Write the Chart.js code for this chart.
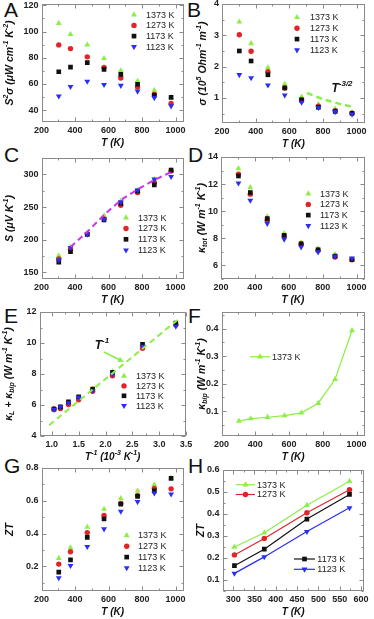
<!DOCTYPE html>
<html>
<head>
<meta charset="utf-8">
<script src="https://cdn.jsdelivr.net/npm/chart.js@4.4.1/dist/chart.umd.min.js"></script>
<style>
html, body { margin: 0; padding: 0; background: #fff; }
body { width: 374px; height: 619px; position: relative; overflow: hidden; }
canvas { position: absolute; }
.tag { position: absolute; font: 21px "Liberation Sans", Arial, sans-serif; line-height: 21px; color: #111; }
</style>
</head>
<body>
<div class="tag" style="left:4px;top:-1px">A</div>
<div class="tag" style="left:187px;top:-1px">B</div>
<div class="tag" style="left:4px;top:144px">C</div>
<div class="tag" style="left:188px;top:144px">D</div>
<div class="tag" style="left:4px;top:305px">E</div>
<div class="tag" style="left:188px;top:305px">F</div>
<div class="tag" style="left:4px;top:455px">G</div>
<div class="tag" style="left:188px;top:455px">H</div>

<script>
// temperatures (K) and inverse temperature (10^-3 K^-1)
const tempK = [303, 373, 473, 573, 673, 773, 873, 973];
const tempLow = [303, 373, 473, 573];
const invT = [1.04, 1.16, 1.31, 1.50, 1.76, 2.13, 2.69, 3.31];
const seriesNames = ["1373 K", "1273 K", "1173 K", "1123 K"];

// A: power factor S^2 sigma
const pf1373 = [106.3, 97.8, 89.8, 79.5, 70.2, 62.2, 55.1, 49.8];
const pf1273 = [89.8, 87.0, 80.7, 72.7, 64.6, 57.6, 52.0, 45.1];
const pf1173 = [69.3, 72.9, 76.3, 71.2, 67.3, 59.8, 51.5, 49.8];
const pf1123 = [50.7, 58.0, 62.0, 59.5, 58.8, 54.4, 49.5, 43.2];

// B: electrical conductivity
const sig1373 = [3.43, 2.74, 1.97, 1.44, 1.03, 0.79, 0.65, 0.54];
const sig1273 = [3.02, 2.49, 1.84, 1.32, 0.95, 0.74, 0.59, 0.51];
const sig1173 = [2.50, 2.18, 1.74, 1.32, 0.93, 0.70, 0.57, 0.51];
const sig1123 = [1.74, 1.64, 1.41, 1.09, 0.86, 0.69, 0.56, 0.48];
const sigFitT = [705, 800, 900, 990];
const sigFit = [1.16, 0.96, 0.81, 0.70];

// C: Seebeck coefficient
const seeb1373 = [175.7, 189.0, 211.0, 237.0, 259.0, 275.3, 292.5, 306.5];
const seeb1273 = [170.7, 185.3, 209.0, 232.0, 252.7, 272.3, 287.4, 305.0];
const seeb1173 = [165.6, 181.7, 208.0, 230.5, 255.7, 274.3, 283.9, 306.5];
const seeb1123 = [169.0, 187.8, 208.4, 231.0, 257.7, 275.8, 292.5, 296.5];
const seebFitT = [373, 473, 573, 673, 773, 873, 973];
const seebFit = [189.0, 212.0, 238.0, 260.7, 277.0, 291.4, 303.5];

// D: total thermal conductivity
const ktot1373 = [13.14, 11.75, 9.60, 8.37, 7.68, 7.23, 6.81, 6.47];
const ktot1273 = [12.74, 11.26, 9.33, 8.17, 7.56, 7.11, 6.62, 6.42];
const ktot1173 = [12.60, 11.38, 9.46, 8.22, 7.60, 7.16, 6.69, 6.44];
const ktot1123 = [12.07, 10.80, 9.09, 7.93, 7.36, 6.99, 6.67, 6.54];

// E: kappa_L + kappa_bip vs 1/T (ascending 1/T)
const klb1373 = [5.75, 5.85, 6.10, 6.45, 7.03, 8.15, 9.85, 11.22];
const klb1273 = [5.75, 5.77, 6.03, 6.34, 6.88, 7.89, 9.66, 11.18];
const klb1173 = [5.73, 5.88, 6.20, 6.53, 7.03, 8.10, 9.92, 11.29];
const klb1123 = [5.71, 5.88, 6.14, 6.49, 6.92, 7.98, 9.77, 11.07];
const klbFitX = [0.95, 3.40];
const klbFit = [4.70, 11.65];

// F: bipolar thermal conductivity
const kbip1373 = [0.064, 0.073, 0.078, 0.084, 0.094, 0.129, 0.216, 0.393];

// G, H: figure of merit
const zt1373 = [0.250, 0.315, 0.440, 0.549, 0.614, 0.661, 0.698, 0.739];
const zt1273 = [0.214, 0.289, 0.406, 0.510, 0.584, 0.633, 0.676, 0.673];
const zt1173 = [0.165, 0.240, 0.377, 0.489, 0.580, 0.627, 0.661, 0.737];
const zt1123 = [0.130, 0.205, 0.320, 0.428, 0.535, 0.594, 0.647, 0.641];

// tick values
const tTicks = [200, 400, 600, 800, 1000];
const tLowTicks = [300, 350, 400, 450, 500, 550, 600];
const invTicks = [1.0, 1.5, 2.0, 2.5, 3.0, 3.5];
const pfTicks = [40, 60, 80, 100, 120];
const sigTicks = [1, 2, 3, 4];
const seebTicks = [150, 200, 250, 300];
const ktotTicks = [6, 8, 10, 12, 14];
const klbTicks = [4, 6, 8, 10, 12];
const kbipTicks = [0.1, 0.2, 0.3, 0.4];
const ztTicks = [0.2, 0.4, 0.6, 0.8];
const ztLowTicks = [0.1, 0.2, 0.3, 0.4, 0.5, 0.6];

const FONT = '"Liberation Sans", Arial, sans-serif';
const green = "#8bef45", red = "#e02428", black = "#111111", blue = "#2a2ef5", magenta = "#cc33ee";
const looks = [
    { color: green, shape: "triangle", rot: 0, r: 3.4 },
    { color: red, shape: "circle", rot: 0, r: 2.7 },
    { color: black, shape: "rect", rot: 0, r: 3.3 },
    { color: blue, shape: "triangle", rot: 180, r: 3.4 }
];

const pts = (xs, ys) => ys.map((y, i) => ({ x: xs[i], y }));

function markerSets(xs, sets, withLine, only) {
    return sets.map((ys, k) => {
        const i = only !== undefined ? only : k;
        const lk = looks[i];
        return {
            label: seriesNames[i],
            data: pts(xs, ys),
            showLine: !!withLine,
            borderColor: lk.color,
            backgroundColor: lk.color,
            borderWidth: 1.2,
            pointStyle: lk.shape,
            pointRotation: lk.rot,
            pointRadius: lk.r,
            pointBorderWidth: 0
        };
    }).reverse();
}

function dashed(xs, ys, color, width) {
    return {
        data: pts(xs, ys), showLine: true, borderColor: color, backgroundColor: color,
        borderWidth: width, borderDash: [6, 4], pointRadius: 0
    };
}

function stackLegend(mx, tx, y0, dy) {
    return seriesNames.map((_, i) => ({ i, mx, tx, y: y0 + i * dy }));
}

function rich(ctx, parts, x, y, size, rotate) {
    const big = `italic bold ${size}px ${FONT}`;
    const small = `italic bold ${Math.round(size * 0.68)}px ${FONT}`;
    let w = 0;
    parts.forEach(([t, m]) => { ctx.font = m ? small : big; w += ctx.measureText(t).width; });
    ctx.save();
    ctx.translate(x, y);
    if (rotate) ctx.rotate(-Math.PI / 2);
    ctx.textBaseline = "middle";
    ctx.textAlign = "left";
    ctx.fillStyle = "#111";
    let cx = -w / 2;
    parts.forEach(([t, m]) => {
        ctx.font = m ? small : big;
        const dy = m === "^" ? -size * 0.4 : m === "_" ? size * 0.32 : 0;
        ctx.fillText(t, cx, dy);
        cx += ctx.measureText(t).width;
    });
    ctx.restore();
}

function tickList(vals, min, max) {
    const out = vals.filter(v => v >= min && v <= max).map(v => [v, true]);
    const step = vals[1] - vals[0];
    for (let v = vals[0] - step / 2; v <= max + 1e-9; v += step) {
        if (v >= min - 1e-9) out.push([v, false]);
    }
    return out;
}

function makeDeco(p) {
    return {
        id: "deco" + p.id,
        afterDatasetsDraw(chart) {
            const ctx = chart.ctx, a = chart.chartArea;
            const sx = chart.scales.x, sy = chart.scales.y;
            const ox = p.cv[0], oy = p.cv[1];
            ctx.save();
            const L = Math.round(a.left) + 0.5, T = Math.round(a.top) + 0.5;
            const R = Math.round(a.right) - 0.5, B = Math.round(a.bottom) - 0.5;
            ctx.strokeStyle = "#8a8a8a";
            ctx.lineWidth = 1;
            ctx.strokeRect(L, T, R - L, B - T);
            ctx.beginPath();
            tickList(p.x.ticks, sx.min, sx.max).forEach(([v, major]) => {
                const px = Math.round(sx.getPixelForValue(v)) + 0.5, len = major ? 4 : 2;
                ctx.moveTo(px, B); ctx.lineTo(px, B - len);
                ctx.moveTo(px, T); ctx.lineTo(px, T + len);
            });
            tickList(p.y.ticks, sy.min, sy.max).forEach(([v, major]) => {
                const py = Math.round(sy.getPixelForValue(v)) + 0.5, len = major ? 4 : 2;
                ctx.moveTo(L, py); ctx.lineTo(L + len, py);
                ctx.moveTo(R, py); ctx.lineTo(R - len, py);
            });
            ctx.stroke();

            // legend
            (p.legend || []).forEach(it => {
                const lk = looks[it.i], y = it.y - oy;
                if (it.l1) {
                    ctx.strokeStyle = lk.color;
                    ctx.lineWidth = 1.2;
                    ctx.beginPath();
                    ctx.moveTo(it.l1 - ox, y); ctx.lineTo(it.l2 - ox, y);
                    ctx.stroke();
                }
                ctx.fillStyle = lk.color;
                ctx.strokeStyle = lk.color;
                Chart.helpers.drawPoint(ctx, { pointStyle: lk.shape, rotation: lk.rot, radius: lk.r, borderWidth: 0 }, it.mx - ox, y);
                ctx.fillStyle = "#222";
                ctx.font = `9px ${FONT}`;
                ctx.textBaseline = "middle";
                ctx.textAlign = "left";
                ctx.fillText(seriesNames[it.i], it.tx - ox, y + 0.5);
            });

            // axis titles
            rich(ctx, p.yTitle.parts, p.yTitle.x - ox, (a.top + a.bottom) / 2, 10.5, true);
            rich(ctx, p.xTitle, (a.left + a.right) / 2, a.bottom + 21, 10, false);

            // annotations
            (p.notes || []).forEach(n => rich(ctx, n.parts, n.x - ox, n.y - oy, 12, false));
            if (p.arrow) {
                const [x1, y1, x2, y2] = p.arrow.map((v, k) => v - (k % 2 ? oy : ox));
                const ang = Math.atan2(y2 - y1, x2 - x1);
                ctx.strokeStyle = green; ctx.fillStyle = green; ctx.lineWidth = 1.5;
                ctx.beginPath(); ctx.moveTo(x1, y1); ctx.lineTo(x2 - 4 * Math.cos(ang), y2 - 4 * Math.sin(ang)); ctx.stroke();
                ctx.beginPath();
                ctx.moveTo(x2, y2);
                ctx.lineTo(x2 - 6 * Math.cos(ang) + 3 * Math.sin(ang), y2 - 6 * Math.sin(ang) - 3 * Math.cos(ang));
                ctx.lineTo(x2 - 6 * Math.cos(ang) - 3 * Math.sin(ang), y2 - 6 * Math.sin(ang) + 3 * Math.cos(ang));
                ctx.closePath(); ctx.fill();
            }
            ctx.restore();
        }
    };
}

const kUnit = [[" (W m", ""], ["-1", "^"], [" K", ""], ["-1", "^"], [")", ""]];
const tTitle = [["T (K)", ""]];

const panels = [
    {
        id: "A", cv: [0, 0, 192, 150], box: [41.5, 1, 184, 122],
        x: { min: 200, max: 1050, ticks: tTicks }, y: { min: 31, max: 121, ticks: pfTicks },
        yTitle: { x: 10, parts: [["S", ""], ["2", "^"], ["σ (μW cm", ""], ["-1", "^"], [" K", ""], ["-2", "^"], [")", ""]] },
        xTitle: tTitle,
        legend: stackLegend(134, 146, 14.7, 10.7),
        datasets: markerSets(tempK, [pf1373, pf1273, pf1173, pf1123])
    },
    {
        id: "B", cv: [187, 0, 187, 150], box: [222, 1, 365, 123],
        x: { min: 200, max: 1050, ticks: tTicks }, y: { min: 0.2, max: 4, ticks: sigTicks },
        yTitle: { x: 203, parts: [["σ (10", ""], ["5", "^"], [" Ohm", ""], ["-1", "^"], [" m", ""], ["-1", "^"], [")", ""]] },
        xTitle: tTitle,
        legend: stackLegend(297, 310, 17.3, 10.9),
        notes: [{ x: 342, y: 89, parts: [["T", ""], ["-3/2", "^"]] }],
        datasets: [dashed(sigFitT, sigFit, green, 2.5)].concat(markerSets(tempK, [sig1373, sig1273, sig1173, sig1123]))
    },
    {
        id: "C", cv: [0, 144, 192, 164], box: [41.5, 158, 184, 279],
        x: { min: 200, max: 1050, ticks: tTicks }, y: { min: 140, max: 325, ticks: seebTicks },
        yTitle: { x: 10, parts: [["S (μV K", ""], ["-1", "^"], [")", ""]] },
        xTitle: tTitle,
        legend: stackLegend(126, 138, 217.7, 10.8),
        datasets: [dashed(seebFitT, seebFit, magenta, 2)].concat(markerSets(tempK, [seeb1373, seeb1273, seeb1173, seeb1123]))
    },
    {
        id: "D", cv: [187, 144, 187, 164], box: [221, 157, 365, 279],
        x: { min: 200, max: 1050, ticks: tTicks }, y: { min: 5, max: 14, ticks: ktotTicks },
        yTitle: { x: 202, parts: [["κ", ""], ["tot", "_"]].concat(kUnit) },
        xTitle: tTitle,
        legend: stackLegend(308.3, 320, 193.7, 10.7),
        datasets: markerSets(tempK, [ktot1373, ktot1273, ktot1173, ktot1123])
    },
    {
        id: "E", cv: [0, 300, 192, 165], box: [39.5, 312, 186, 436],
        x: { min: 0.77, max: 3.5, ticks: invTicks, fmt: 1 }, y: { min: 4, max: 12, ticks: klbTicks },
        yTitle: { x: 9, parts: [["κ", ""], ["L", "_"], [" + κ", ""], ["bip", "_"]].concat(kUnit) },
        xTitle: [["T", ""], ["-1", "^"], [" (10", ""], ["-3", "^"], [" K", ""], ["-1", "^"], [")", ""]],
        legend: stackLegend(124, 136, 376, 9.9),
        notes: [{ x: 102, y: 346, parts: [["T", ""], ["-1", "^"]] }],
        arrow: [104, 352, 124, 362],
        datasets: [dashed(klbFitX, klbFit, green, 2)].concat(markerSets(invT, [klb1373, klb1273, klb1173, klb1123]))
    },
    {
        id: "F", cv: [187, 300, 187, 165], box: [221.5, 312, 365, 436],
        x: { min: 200, max: 1050, ticks: tTicks }, y: { min: 0.01, max: 0.46, ticks: kbipTicks, fmt: 1 },
        yTitle: { x: 202, parts: [["κ", ""], ["bip", "_"]].concat(kUnit) },
        xTitle: tTitle,
        legend: [{ i: 0, l1: 250, l2: 270, mx: 260, tx: 272, y: 356.7 }],
        datasets: markerSets(tempK, [kbip1373], true, 0)
    },
    {
        id: "G", cv: [0, 455, 192, 164], box: [41.5, 468, 184, 591],
        x: { min: 200, max: 1050, ticks: tTicks }, y: { min: 0.05, max: 0.8, ticks: ztTicks, fmt: 1 },
        yTitle: { x: 10, parts: [["ZT", ""]] },
        xTitle: tTitle,
        legend: stackLegend(126.7, 138, 535.5, 10.8),
        datasets: markerSets(tempK, [zt1373, zt1273, zt1173, zt1123])
    },
    {
        id: "H", cv: [187, 455, 187, 164], box: [222.5, 470, 364, 591],
        x: { min: 275, max: 607, ticks: tLowTicks }, y: { min: 0.05, max: 0.6, ticks: ztLowTicks, fmt: 1 },
        yTitle: { x: 201, parts: [["ZT", ""]] },
        xTitle: tTitle,
        legend: [
            { i: 0, l1: 235.7, l2: 255, mx: 245.5, tx: 257, y: 484.7 },
            { i: 1, l1: 235.7, l2: 255, mx: 245.5, tx: 257, y: 494.5 },
            { i: 2, l1: 294, l2: 315, mx: 304.5, tx: 317.3, y: 559 },
            { i: 3, l1: 294, l2: 315, mx: 304.5, tx: 317.3, y: 569.3 }
        ],
        datasets: markerSets(tempLow, [zt1373, zt1273, zt1173, zt1123].map(a => a.slice(0, 4)), true)
    }
];

function axis(spec, fixedSize, isX) {
    return {
        type: "linear",
        position: isX ? "bottom" : "left",
        min: spec.min,
        max: spec.max,
        grid: { display: false, drawTicks: false },
        border: { display: false },
        ticks: {
            autoSkip: false,
            maxRotation: 0,
            padding: 3,
            color: "#222",
            font: { family: FONT, size: 9, weight: "bold" },
            callback: v => spec.fmt ? Number(v).toFixed(spec.fmt) : String(v)
        },
        afterBuildTicks: s => { s.ticks = spec.ticks.map(v => ({ value: v })); },
        afterFit: s => {
            if (isX) s.height = fixedSize; else s.width = fixedSize;
            s.paddingLeft = s.paddingRight = s.paddingTop = s.paddingBottom = 0;
        }
    };
}

panels.forEach(p => {
    const [cx, cy, cw, ch] = p.cv;
    const [bl, bt, br, bb] = p.box;
    const canvas = document.createElement("canvas");
    canvas.width = cw;
    canvas.height = ch;
    canvas.style.left = cx + "px";
    canvas.style.top = cy + "px";
    canvas.style.width = cw + "px";
    canvas.style.height = ch + "px";
    document.body.appendChild(canvas);

    new Chart(canvas, {
        type: "scatter",
        data: { datasets: p.datasets },
        options: {
            responsive: false,
            animation: false,
            devicePixelRatio: 1,
            layout: { padding: { left: 0, top: bt - cy, right: cx + cw - br, bottom: 0 } },
            plugins: { legend: { display: false }, tooltip: { enabled: false } },
            scales: {
                x: axis(p.x, cy + ch - bb, true),
                y: axis(p.y, bl - cx, false)
            }
        },
        plugins: [makeDeco(p)]
    });
});
</script>
</body>
</html>
